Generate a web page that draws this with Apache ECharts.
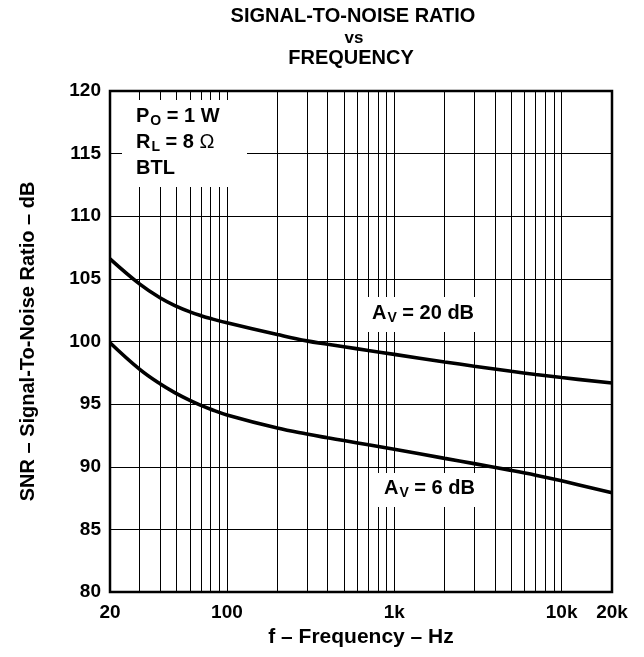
<!DOCTYPE html>
<html>
<head>
<meta charset="utf-8">
<script src="https://cdn.jsdelivr.net/npm/echarts@6/dist/echarts.min.js"></script>
<style>
html,body{margin:0;padding:0;background:#fff;}
#chart{width:644px;height:657px;}
</style>
</head>
<body>
<div id="chart"></div>
<script>
// ---- data ----
const freqHz   = [20, 30, 40, 50, 60, 70, 80, 100, 200, 300, 400, 500, 700, 1000, 2000, 3000, 5000, 7000, 10000, 20000];
const snrAv20  = [106.6, 104.6, 103.47, 102.81, 102.37, 102.06, 101.83, 101.49, 100.56, 100.05, 99.78, 99.58, 99.28, 98.97, 98.37, 98.03, 97.62, 97.37, 97.12, 96.68];
const snrAv6   = [99.9, 97.79, 96.6, 95.84, 95.3, 94.9, 94.59, 94.14, 93.09, 92.61, 92.31, 92.09, 91.75, 91.39, 90.67, 90.25, 89.71, 89.33, 88.88, 87.92];
const gridFreqs = [30,40,50,60,70,80,90,100,200,300,400,500,600,700,800,900,1000,2000,3000,4000,5000,6000,7000,8000,9000,10000];
const xTickValues = [20, 100, 1000, 10000, 20000];
const xTickText   = ['20', '100', '1k', '10k', '20k'];
const yMin = 80, yMax = 120, yStep = 5;

const FONT = 'Liberation Sans, Arial, Helvetica, sans-serif';
const chart = echarts.init(document.getElementById('chart'), null, {renderer: 'canvas'});

const lineStyle = {color: '#000', width: 3.6};
const rich = {
  a: {fontFamily: FONT, fontSize: 20, fontWeight: 'bold', color: '#000', lineHeight: 24, verticalAlign: 'middle'},
  s: {fontFamily: FONT, fontSize: 14, fontWeight: 'bold', color: '#000', lineHeight: 14, verticalAlign: 'bottom', padding: [0,0,0,1]},
  o: {fontFamily: FONT, fontSize: 20, fontWeight: 'normal', color: '#000', lineHeight: 24, verticalAlign: 'middle'}
};

const option = {
  animation: false,
  backgroundColor: '#fff',
  grid: {left: 110, right: 32, top: 91, bottom: 65, show: true, borderColor: '#000', borderWidth: 2.5, backgroundColor: 'transparent'},
  xAxis: {
    type: 'log', logBase: 10, min: 20, max: 20000,
    axisLine: {show: false},
    axisTick: {show: false},
    splitLine: {show: false},
    minorSplitLine: {show: false},
    axisLabel: {
      customValues: xTickValues,
      formatter: function (v) {
        const i = xTickValues.findIndex(t => Math.abs(t - v) / t < 1e-6);
        return i >= 0 ? xTickText[i] : '';
      },
      fontFamily: FONT, fontSize: 19, fontWeight: 'bold', color: '#000', margin: 11
    },
    name: 'f – Frequency – Hz', nameLocation: 'middle', nameGap: 34,
    nameTextStyle: {fontFamily: FONT, fontSize: 21, fontWeight: 'bold', color: '#000'}
  },
  yAxis: {
    type: 'value', min: yMin, max: yMax, interval: yStep,
    axisLine: {show: false},
    axisTick: {show: false},
    splitLine: {show: true, lineStyle: {color: '#000', width: 1}},
    axisLabel: {fontFamily: FONT, fontSize: 19, fontWeight: 'bold', color: '#000', margin: 9},
    name: 'SNR – Signal-To-Noise Ratio – dB', nameLocation: 'middle', nameGap: 72,
    nameTextStyle: {fontFamily: FONT, fontSize: 20, fontWeight: 'bold', color: '#000'}
  },
  series: [
    {
      name: 'AV = 20 dB', type: 'line', smooth: 0.4, symbol: 'none',
      lineStyle: lineStyle, z: 5,
      data: freqHz.map((f, i) => [f, snrAv20[i]]),
      markLine: {
        silent: true, symbol: ['none', 'none'], label: {show: false},
        lineStyle: {color: '#000', width: 1, type: 'solid'},
        emphasis: {disabled: true},
        data: gridFreqs.map(f => ({xAxis: f}))
      }
    },
    {
      name: 'AV = 6 dB', type: 'line', smooth: 0.4, symbol: 'none',
      lineStyle: lineStyle, z: 5,
      data: freqHz.map((f, i) => [f, snrAv6[i]])
    }
  ],
  graphic: [
    // title
    {type: 'text', z: 20, style: {x: 353, y: 16.5, text: 'SIGNAL-TO-NOISE RATIO', align: 'center', verticalAlign: 'middle', font: 'bold 20px ' + FONT, fill: '#000'}},
    {type: 'text', z: 20, style: {x: 354, y: 38.5, text: 'vs', align: 'center', verticalAlign: 'middle', font: 'bold 17px ' + FONT, fill: '#000'}},
    {type: 'text', z: 20, style: {x: 351, y: 58, text: 'FREQUENCY', align: 'center', verticalAlign: 'middle', font: 'bold 20px ' + FONT, fill: '#000'}},
    // white boxes behind annotations
    {type: 'rect', z: 15, shape: {x: 122, y: 100, width: 125, height: 87}, style: {fill: '#fff'}},
    {type: 'rect', z: 15, shape: {x: 362, y: 297, width: 125, height: 35}, style: {fill: '#fff'}},
    {type: 'rect', z: 15, shape: {x: 373, y: 473, width: 114, height: 34}, style: {fill: '#fff'}},
    // annotations
    {type: 'text', z: 20, style: {x: 136, y: 116, text: '{a|P}{s|O}{a| = 1 W}', rich: rich, verticalAlign: 'middle'}},
    {type: 'text', z: 20, style: {x: 136, y: 142.5, text: '{a|R}{s|L}{a| = 8 }{o|Ω}', rich: rich, verticalAlign: 'middle'}},
    {type: 'text', z: 20, style: {x: 136, y: 168.5, text: '{a|BTL}', rich: rich, verticalAlign: 'middle'}},
    {type: 'text', z: 20, style: {x: 372, y: 313, text: '{a|A}{s|V}{a| = 20 dB}', rich: rich, verticalAlign: 'middle'}},
    {type: 'text', z: 20, style: {x: 384, y: 488, text: '{a|A}{s|V}{a| = 6 dB}', rich: rich, verticalAlign: 'middle'}}
  ]
};
chart.setOption(option);
</script>
</body>
</html>
